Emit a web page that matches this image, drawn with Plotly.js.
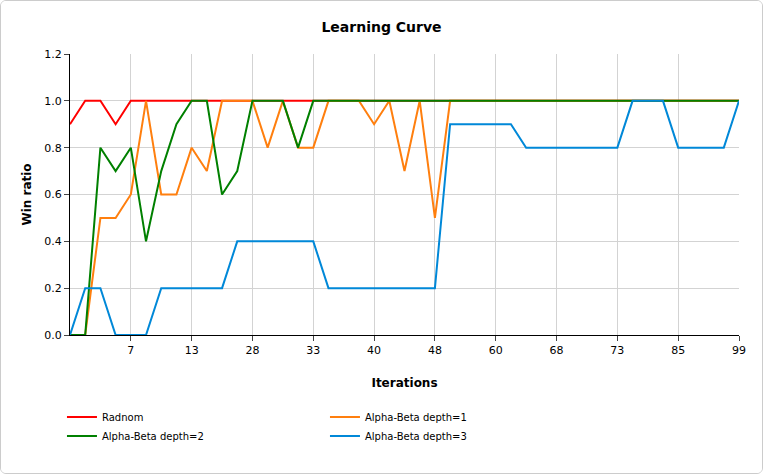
<!DOCTYPE html>
<html>
<head>
<script src="https://cdn.plot.ly/plotly-3.0.1.min.js"></script>
<style>
  body { margin: 0; background: #fff; }
  #graph { width: 761px; height: 472px; border: 1px solid #ccc; border-radius: 6px; overflow: hidden; }
</style>
</head>
<body>
<div id="graph"></div>
<script>
/* ----- Data ------- */
var tickIndex = [4, 8, 12, 16, 20, 24, 28, 32, 36, 40, 44];
var tickLabels = ['7', '13', '28', '33', '40', '48', '60', '68', '73', '85', '99'];

var randomWins = [0.9, 1, 1, 0.9, 1, 1, 1, 1, 1, 1, 1, 1, 1, 1, 1, 1, 1, 1, 1, 1, 1, 1, 1,
    1, 1, 1, 1, 1, 1, 1, 1, 1, 1, 1, 1, 1, 1, 1, 1, 1, 1, 1, 1, 1, 1];
var depth1Wins = [0, 0, 0.5, 0.5, 0.6, 1, 0.6, 0.6, 0.8, 0.7, 1, 1, 1, 0.8, 1, 0.8, 0.8, 1, 1, 1,
    0.9, 1, 0.7, 1, 0.5, 1, 1, 1, 1, 1, 1, 1, 1, 1, 1, 1, 1, 1, 1, 1, 1, 1, 1, 1, 1];
var depth2Wins = [0, 0, 0.8, 0.7, 0.8, 0.4, 0.7, 0.9, 1, 1, 0.6, 0.7, 1, 1, 1, 0.8, 1, 1, 1, 1,
    1, 1, 1, 1, 1, 1, 1, 1, 1, 1, 1, 1, 1, 1, 1, 1, 1, 1, 1, 1, 1, 1, 1, 1, 1];
var depth3Wins = [0, 0.2, 0.2, 0, 0, 0, 0.2, 0.2, 0.2, 0.2, 0.2, 0.4, 0.4, 0.4, 0.4, 0.4, 0.4,
    0.2, 0.2, 0.2, 0.2, 0.2, 0.2, 0.2, 0.2, 0.9, 0.9, 0.9, 0.9, 0.9, 0.8, 0.8, 0.8, 0.8, 0.8,
    0.8, 0.8, 1, 1, 1, 0.8, 0.8, 0.8, 0.8, 1];

/* ----- Traces ------- */
function makeTrace(values, name, color) {
    return {
        x: values.map(function (v, i) { return i; }),
        y: values,
        mode: 'lines',
        name: name,
        line: {color: color, width: 2}
    };
}

var data = [
    makeTrace(randomWins, 'Radnom', '#ff0000'),
    makeTrace(depth1Wins, 'Alpha-Beta depth=1', '#ff7f0e'),
    makeTrace(depth2Wins, 'Alpha-Beta depth=2', '#008000'),
    makeTrace(depth3Wins, 'Alpha-Beta depth=3', '#0088d8')
];

var layout = {
    width: 761,
    height: 472,
    font: {family: 'DejaVu Sans, Verdana, sans-serif', size: 11, color: '#000'},
    title: {text: '<b>Learning Curve</b>', font: {size: 14}, y: 0.955},
    margin: {l: 69, r: 23, t: 53, b: 138},
    xaxis: {
        range: [0, 44],
        tickvals: tickIndex,
        ticktext: tickLabels,
        ticks: 'outside',
        ticklen: 5,
        showline: true,
        linecolor: '#000',
        gridcolor: '#d3d3d3',
        zeroline: false,
        title: {text: '<b>Iterations</b>', font: {size: 12}, standoff: 22}
    },
    yaxis: {
        range: [0, 1.2],
        dtick: 0.2,
        tickformat: '.1f',
        ticks: 'outside',
        ticklen: 5,
        showline: true,
        linecolor: '#000',
        gridcolor: '#d3d3d3',
        zeroline: false,
        title: {text: '<b>Win ratio</b>', font: {size: 12}, standoff: 10}
    },
    showlegend: true,
    legend: {
        orientation: 'h',
        x: -0.012,
        xanchor: 'left',
        y: -0.24,
        yanchor: 'top',
        entrywidth: 218,
        font: {size: 10}
    }
};

Plotly.newPlot('graph', data, layout, {staticPlot: true});
</script>
</body>
</html>
